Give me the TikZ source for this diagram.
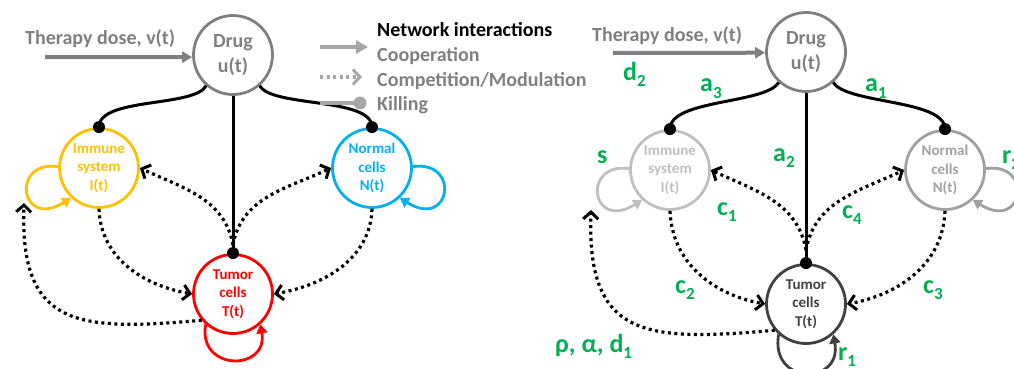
\documentclass[tikz,border=0pt]{standalone}
\usepackage{fontspec}
\setmainfont{Carlito}
\usetikzlibrary{arrows.meta,calc}
\definecolor{gold}{HTML}{FFC000}
\definecolor{sky}{HTML}{00B0F0}
\definecolor{drugc}{HTML}{7F7F7F}
\definecolor{legc}{HTML}{A6A6A6}
\definecolor{legt}{HTML}{808080}
\definecolor{pale}{HTML}{BFBFBF}
\definecolor{midg}{HTML}{A0A0A0}
\definecolor{dark}{HTML}{404040}
\definecolor{pgreen}{HTML}{00B050}
% lowered subscript for parameter labels
\newcommand\sbs[1]{\raisebox{-6pt}{\fontsize{17}{17}\selectfont #1}}
\begin{document}
\begin{tikzpicture}[x=1pt,y=1pt,
  cell/.style={circle,draw,line width=2.8pt,minimum size=79pt,inner sep=0pt,align=center,
    font=\bfseries\fontsize{15}{18.5}\selectfont},
  drugnode/.style={cell,draw=drugc,text=drugc,font=\bfseries\fontsize{20}{25}\selectfont},
  big/.style={font=\bfseries\fontsize{20}{24}\selectfont},
  kill/.style={line width=3pt,black},
  comp/.style={line width=3.2pt,dash pattern=on 3pt off 3.5pt,
    -{Straight Barb[length=7pt,width=15pt,line width=3pt]}},
  selfloop/.style={line width=2.8pt,-{Triangle[length=9pt,width=11pt]}},
  dose/.style={line width=4pt,drugc,-{Triangle[length=10pt,width=11pt]}},
  plabel/.style={text=pgreen,anchor=base west,inner sep=0pt,font=\bfseries\fontsize{26}{26}\selectfont},
  legtext/.style={big,anchor=base west,inner sep=0pt,text=legt},
]
\useasboundingbox (0,-369) rectangle (1014,0);
\clip (0,-369) rectangle (1014,0);

% ---------------- left network ----------------
\node[drugnode] (DrL) at (233,-55) {Drug\\u(t)};
\node[cell,draw=gold,text=gold] (ImL) at (99,-168) {Immune\\system\\I(t)};
\node[cell,draw=sky,text=sky] (NmL) at (372,-168) {Normal\\cells\\N(t)};
\node[cell,draw=red,text=red] (TuL) at (233,-294) {Tumor\\cells\\T(t)};

\node[big,text=drugc,anchor=base west,inner sep=0pt] (doseTxtL) at (25,-45) {Therapy dose, v(t)};
\coordinate (doseL) at (45,-57);
\draw[dose] (doseL) -- (DrL.183);

% killing by the drug
\draw[kill] (DrL.-131) .. controls +(-120:25) and +(90:30) .. (ImL.north);
\draw[kill] (DrL.-49) .. controls +(-60:25) and +(90:30) .. (NmL.north);
\draw[kill] (DrL.south) -- (TuL.north);
\fill (ImL.north) circle (6pt);
\fill (NmL.north) circle (6pt);
\fill (TuL.north) circle (6pt);

% competition / modulation
\coordinate (hubL) at (233,-245);
\draw[comp] (hubL) to[out=100,in=-25] (ImL.east);
\draw[comp] (hubL) to[out=80,in=205] (NmL.west);
\draw[comp] (ImL.south) to[out=-88,in=170] (TuL.west);
\draw[comp] (NmL.south) to[out=-92,in=10] (TuL.east);
\coordinate (tipL) at (24,-203);
\draw[comp] (TuL.-140) to[out=185,in=-92,looseness=1.5] (tipL);

% self growth
\draw[selfloop,gold] (ImL.178) .. controls (10,-160) and (20,-230) .. (ImL.-133);
\draw[selfloop,sky] (NmL.2) .. controls (461,-160) and (451,-230) .. (NmL.-47);
\draw[selfloop,red] (TuL.-132) .. controls +(-100:48) and +(-80:48) .. (TuL.-48);

% legend
\node[big,anchor=base west,inner sep=0pt] (legTitle) at (377,-37) {Network interactions};
\coordinate (lgA1) at (320,-47); \coordinate (lgA2) at (368,-47);
\draw[line width=4.5pt,legc,-{Triangle[length=12pt,width=13pt]}] (lgA1) -- (lgA2);
\node[legtext] (legCoop) at (377,-62) {Cooperation};
\coordinate (lgB1) at (320,-77); \coordinate (lgB2) at (362,-77);
\draw[comp,legc] (lgB1) -- (lgB2);
\node[legtext] (legComp) at (377,-86) {Competition/Modulation};
\coordinate (lgC1) at (320,-103); \coordinate (lgC2) at (360,-103);
\draw[line width=4.5pt,legc] (lgC1) -- (lgC2);
\fill[legc] (lgC2) circle (6.5pt);
\node[legtext] (legKill) at (377,-110) {Killing};

% ---------------- right network (parameters) ----------------
\node[drugnode] (DrR) at (806,-52) {Drug\\u(t)};
\node[cell,draw=pale,text=pale] (ImR) at (670,-170) {Immune\\system\\I(t)};
\node[cell,draw=midg,text=midg] (NmR) at (945,-170) {Normal\\cells\\N(t)};
\node[cell,draw=dark,text=dark] (TuR) at (806,-304) {Tumor\\cells\\T(t)};

\node[big,text=drugc,anchor=base west,inner sep=0pt] (doseTxtR) at (592,-42) {Therapy dose, v(t)};
\coordinate (doseR) at (613,-53);
\draw[dose] (doseR) -- (DrR.181);

\draw[kill] (DrR.-132) .. controls +(-120:25) and +(90:30) .. (ImR.north);
\draw[kill] (DrR.-48) .. controls +(-60:25) and +(90:30) .. (NmR.north);
\draw[kill] (DrR.south) -- (TuR.north);
\fill (ImR.north) circle (6pt);
\fill (NmR.north) circle (6pt);
\fill (TuR.north) circle (6pt);

\coordinate (hubR) at (806,-250);
\draw[comp] (hubR) to[out=100,in=-25] (ImR.east);
\draw[comp] (hubR) to[out=80,in=205] (NmR.west);
\draw[comp] (ImR.south) to[out=-88,in=170] (TuR.west);
\draw[comp] (NmR.south) to[out=-92,in=10] (TuR.east);
\coordinate (tipR) at (591,-210);
\draw[comp] (TuR.-140) to[out=185,in=-92,looseness=1.5] (tipR);

\draw[selfloop,pale] (ImR.178) .. controls (581,-162) and (591,-232) .. (ImR.-133);
\draw[selfloop,midg] (NmR.2) .. controls (1034,-162) and (1024,-232) .. (NmR.-47);
\draw[selfloop,dark] (TuR.-132) .. controls +(-100:52) and +(-80:52) .. (TuR.-48);

% parameter labels
\node[plabel] (pd2) at (623,-80) {d\sbs{2}};
\node[plabel] (pa3) at (700,-92) {a\sbs{3}};
\node[plabel] (pa1) at (865,-92) {a\sbs{1}};
\node[plabel] (pa2) at (773,-161) {a\sbs{2}};
\node[plabel] (ps) at (597,-163) {s};
\node[plabel] (pr2) at (1002,-163) {r\sbs{2}};
\node[plabel] (pc1) at (717,-215) {c\sbs{1}};
\node[plabel] (pc4) at (842,-218) {c\sbs{4}};
\node[plabel] (pc2) at (675,-293) {c\sbs{2}};
\node[plabel] (pc3) at (923,-293) {c\sbs{3}};
\node[plabel] (prad) at (555,-352) {ρ, α, d\sbs{1}};
\node[plabel] (pr1) at (838,-360) {r\sbs{1}};
\end{tikzpicture}
\end{document}
